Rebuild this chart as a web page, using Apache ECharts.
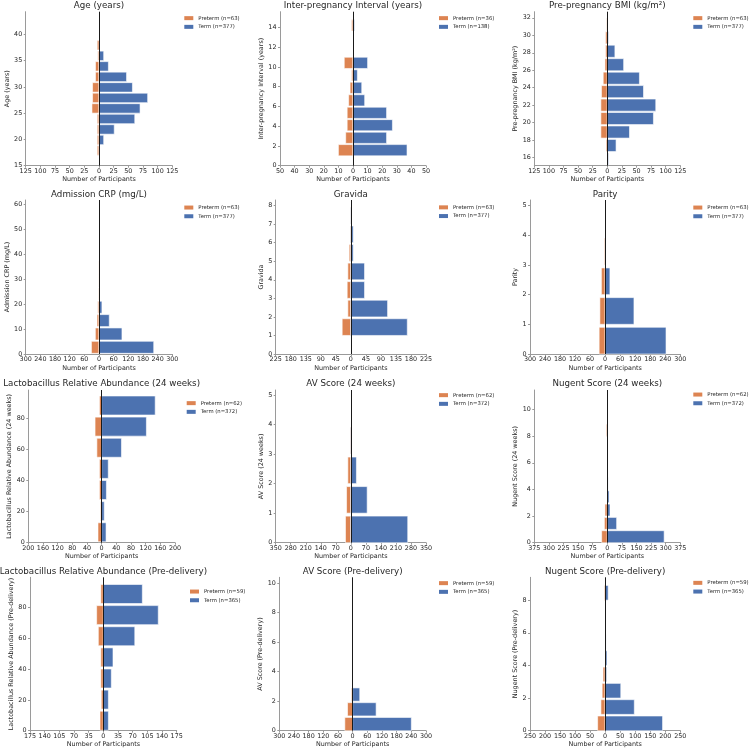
<!DOCTYPE html>
<html>
<head>
<meta charset="utf-8">
<script src="https://cdn.jsdelivr.net/npm/echarts@6/dist/echarts.min.js"></script>
<style>
  html, body { margin: 0; padding: 0; background: #fff; }
  #chart { width: 752px; height: 751px; }
</style>
</head>
<body>
<div id="chart"></div>
<script>
const FONT = 'DejaVu Sans'
const ORANGE = '#DD8452'
const BLUE = '#4C72B0'

// bin lower edges and counts per panel (preterm drawn to the left)
const ageBins = [17, 19, 21, 23, 25, 27, 29, 31, 33, 35, 37]
const agePreterm = [3, 3, 3, 3, 12, 11, 11, 6, 6, 2, 3]
const ageTerm = [1, 8, 26, 61, 70, 83, 57, 47, 16, 8, 0]

const ipiBins = [1.00, 2.26, 3.53, 4.79, 6.05, 7.32, 8.58, 9.85, 11.11, 12.37, 13.64]
const ipiPreterm = [10, 5, 4, 4, 3, 2, 1, 6, 0, 0, 1]
const ipiTerm = [37, 23, 27, 23, 8, 6, 3, 10, 0, 0, 1]

const bmiBins = [15.16, 16.70, 18.24, 19.78, 21.32, 22.86, 24.40, 25.94, 27.48, 29.02, 30.56]
const bmiPreterm = [0, 2, 11, 11, 11, 10, 7, 4, 3, 3, 1]
const bmiTerm = [2, 15, 38, 79, 83, 62, 55, 28, 13, 2, 0]

const crpBins = [0.27, 5.62, 10.97, 16.32, 21.67, 27.02, 32.37, 37.72, 43.07, 48.42, 53.77]
const crpPreterm = [31, 15, 8, 5, 2, 1, 1, 0, 0, 0, 0]
const crpTerm = [224, 94, 42, 12, 3, 1, 1, 0, 0, 0, 0]

const gravidaBins = [1, 2, 3, 4, 5, 6, 7]
const gravidaPreterm = [26, 9, 11, 9, 5, 2, 1]
const gravidaTerm = [169, 110, 41, 41, 7, 7, 2]

const parityBins = [0, 1, 2, 3]
const parityPreterm = [24, 21, 15, 3]
const parityTerm = [243, 115, 19, 0]

const lacto24Bins = [0.6, 14.2, 27.8, 41.4, 55.0, 68.6, 82.2]
const lacto24Preterm = [10, 3, 6, 6, 13, 18, 6]
const lacto24Term = [12, 7, 13, 18, 54, 122, 146]

const av24Bins = [0, 1, 2, 3]
const av24Preterm = [25, 20, 14, 3]
const av24Term = [265, 76, 26, 5]

const nugent24Bins = [0, 1, 2, 3, 4, 5, 6, 7, 8, 9]
const nugent24Preterm = [29, 15, 12, 1, 0, 0, 0, 0, 5, 0]
const nugent24Term = [292, 48, 14, 9, 4, 1, 2, 1, 1, 0]

const lactoPreBins = [0.3, 14.0, 27.7, 41.4, 55.1, 68.8, 82.5]
const lactoPrePreterm = [8, 5, 6, 6, 12, 16, 6]
const lactoPreTerm = [12, 12, 19, 23, 75, 131, 93]

const avPreBins = [0, 1, 2, 3, 4, 5, 6, 7, 8, 9]
const avPrePreterm = [32, 21, 5, 0, 1, 0, 0, 0, 0, 0]
const avPreTerm = [240, 96, 29, 0, 0, 0, 0, 0, 0, 0]

const nugentPreBins = [0, 1, 2, 3, 4, 5, 6, 7, 8]
const nugentPrePreterm = [25, 14, 10, 7, 0, 0, 0, 0, 3]
const nugentPreTerm = [191, 97, 52, 5, 6, 3, 0, 1, 10]

const panels = [
  { title: 'Age (years)', yName: 'Age (years)', bins: ageBins, bw: 2, pre: agePreterm, term: ageTerm, nPre: 63, nTerm: 377, yTicks: [15, 20, 25, 30, 35, 40], xTicks: [125, 25] },
  { title: 'Inter-pregnancy Interval (years)', yName: 'Inter-pregnancy Interval (years)', bins: ipiBins, bw: 1.2636, pre: ipiPreterm, term: ipiTerm, nPre: 36, nTerm: 138, yTicks: [0, 2, 4, 6, 8, 10, 12, 14], xTicks: [50, 10] },
  { title: 'Pre-pregnancy BMI (kg/m²)', yName: 'Pre-pregnancy BMI (kg/m²)', bins: bmiBins, bw: 1.54, pre: bmiPreterm, term: bmiTerm, nPre: 63, nTerm: 377, yTicks: [16, 18, 20, 22, 24, 26, 28, 30, 32], xTicks: [125, 25] },
  { title: 'Admission CRP (mg/L)', yName: 'Admission CRP (mg/L)', bins: crpBins, bw: 5.35, pre: crpPreterm, term: crpTerm, nPre: 63, nTerm: 377, yTicks: [0, 10, 20, 30, 40, 50, 60], xTicks: [300, 60] },
  { title: 'Gravida', yName: 'Gravida', bins: gravidaBins, bw: 1, pre: gravidaPreterm, term: gravidaTerm, nPre: 63, nTerm: 377, yTicks: [0, 1, 2, 3, 4, 5, 6, 7, 8], xTicks: [225, 45] },
  { title: 'Parity', yName: 'Parity', bins: parityBins, bw: 1, pre: parityPreterm, term: parityTerm, nPre: 63, nTerm: 377, yTicks: [0, 1, 2, 3, 4, 5], xTicks: [300, 60] },
  { title: 'Lactobacillus Relative Abundance (24 weeks)', yName: 'Lactobacillus Relative Abundance (24 weeks)', bins: lacto24Bins, bw: 13.6, pre: lacto24Preterm, term: lacto24Term, nPre: 62, nTerm: 372, yTicks: [0, 20, 40, 60, 80], xTicks: [200, 40] },
  { title: 'AV Score (24 weeks)', yName: 'AV Score (24 weeks)', bins: av24Bins, bw: 1, pre: av24Preterm, term: av24Term, nPre: 62, nTerm: 372, yTicks: [0, 1, 2, 3, 4, 5], xTicks: [350, 70] },
  { title: 'Nugent Score (24 weeks)', yName: 'Nugent Score (24 weeks)', bins: nugent24Bins, bw: 1, pre: nugent24Preterm, term: nugent24Term, nPre: 62, nTerm: 372, yTicks: [0, 2, 4, 6, 8, 10], xTicks: [375, 75] },
  { title: 'Lactobacillus Relative Abundance (Pre-delivery)', yName: 'Lactobacillus Relative Abundance (Pre-delivery)', bins: lactoPreBins, bw: 13.7, pre: lactoPrePreterm, term: lactoPreTerm, nPre: 59, nTerm: 365, yTicks: [0, 20, 40, 60, 80], xTicks: [175, 35] },
  { title: 'AV Score (Pre-delivery)', yName: 'AV Score (Pre-delivery)', bins: avPreBins, bw: 1, pre: avPrePreterm, term: avPreTerm, nPre: 59, nTerm: 365, yTicks: [0, 2, 4, 6, 8, 10], xTicks: [300, 60] },
  { title: 'Nugent Score (Pre-delivery)', yName: 'Nugent Score (Pre-delivery)', bins: nugentPreBins, bw: 1, pre: nugentPrePreterm, term: nugentPreTerm, nPre: 59, nTerm: 365, yTicks: [0, 2, 4, 6, 8], xTicks: [250, 50] }
]

// pixel layout: plot box, y range, title row, y-name gap, legend spot
const layout = [
  { l: 25.7, r: 172.3, t: 11.7, b: 165.7, yMin: 15, yMax: 44.3, titleY: 6, nameGap: 12.1, legX: 184.3, legY: 18.3 },
  { l: 280, r: 426, t: 11.7, b: 165.7, yMin: 0, yMax: 15.6, titleY: 6, nameGap: 12.4, legX: 439, legY: 18.3 },
  { l: 534.3, r: 680.3, t: 11.7, b: 165.7, yMin: 15.08, yMax: 32.7, titleY: 6, nameGap: 11.4, legX: 693.3, legY: 18.3 },
  { l: 25.7, r: 172.3, t: 200, b: 354, yMin: 0, yMax: 61.7, titleY: 194.3, nameGap: 12.1, legX: 184.3, legY: 207.7 },
  { l: 275.7, r: 426, t: 200, b: 354, yMin: 0, yMax: 8.3, titleY: 194.3, nameGap: 8.1, legX: 439, legY: 207.5 },
  { l: 530, r: 680.3, t: 200, b: 354, yMin: 0, yMax: 5.19, titleY: 194.3, nameGap: 7.4, legX: 693.3, legY: 207.7 },
  { l: 28.3, r: 175, t: 390, b: 542.7, yMin: 0, yMax: 98.3, titleY: 383.3, nameGap: 12, legX: 186.7, legY: 403.3 },
  { l: 275.7, r: 426, t: 390, b: 542.7, yMin: 0, yMax: 5.17, titleY: 383.3, nameGap: 8.1, legX: 439, legY: 395.3 },
  { l: 534.3, r: 680.3, t: 390, b: 542.7, yMin: 0, yMax: 11.47, titleY: 383.3, nameGap: 11.7, legX: 693.3, legY: 394.7 },
  { l: 30, r: 176.7, t: 577.3, b: 730.7, yMin: 0, yMax: 99.5, titleY: 572, nameGap: 11.4, legX: 190, legY: 591.7 },
  { l: 279.3, r: 426, t: 577.3, b: 730.7, yMin: 0, yMax: 10.4, titleY: 572, nameGap: 11.7, legX: 439, legY: 583.3 },
  { l: 530, r: 680.3, t: 577.3, b: 730.7, yMin: 0, yMax: 9.4, titleY: 572, nameGap: 7.4, legX: 693.3, legY: 583 }
]

const textColor = '#262626'
const spineColor = '#9a9a9a'
const tickFont = 6.4

// one horizontal rect per histogram bin, placed through the axes
const renderBin = (params, api) => {
  const n = api.value(2)
  if (!n) return null
  const a = api.coord([0, api.value(0)])
  const b = api.coord([n, api.value(1)])
  return {
    type: 'rect',
    shape: {
      x: Math.min(a[0], b[0]),
      y: Math.min(a[1], b[1]),
      width: Math.abs(b[0] - a[0]),
      height: Math.abs(b[1] - a[1])
    },
    style: { fill: api.visual('color'), stroke: '#fff', lineWidth: 0.6 }
  }
}

const chart = echarts.init(document.getElementById('chart'))

const option = {
  animation: false,
  backgroundColor: '#fff',
  textStyle: { fontFamily: FONT },
  title: [],
  legend: [],
  grid: [],
  xAxis: [],
  yAxis: [],
  series: []
}

panels.forEach((p, i) => {
  const L = layout[i]
  const preName = 'Preterm (n=' + p.nPre + ')'
  const termName = 'Term (n=' + p.nTerm + ')'

  option.grid.push({
    left: L.l, top: L.t, width: L.r - L.l, height: L.b - L.t,
    outerBoundsMode: 'none'
  })

  option.title.push({
    text: p.title,
    left: (L.l + L.r) / 2,
    top: L.titleY,
    textAlign: 'center',
    textVerticalAlign: 'middle',
    padding: 0,
    textStyle: { fontFamily: FONT, fontSize: 8.7, fontWeight: 'normal', color: textColor }
  })

  option.legend.push({
    data: [preName, termName],
    orient: 'vertical',
    left: L.legX,
    top: L.legY - 2.65,
    padding: 0,
    icon: 'rect',
    itemWidth: 9,
    itemHeight: 4,
    itemGap: 3.7,
    selectedMode: false,
    textStyle: { fontFamily: FONT, fontSize: 5.3, color: textColor }
  })

  option.xAxis.push({
    gridIndex: i,
    type: 'value',
    min: -p.xTicks[0],
    max: p.xTicks[0],
    interval: p.xTicks[1],
    axisLine: { show: true, onZero: false, lineStyle: { color: spineColor, width: 1 } },
    axisTick: { show: true, length: 2, lineStyle: { color: spineColor } },
    axisLabel: { fontFamily: FONT, fontSize: tickFont, color: textColor, margin: 2.5, formatter: v => String(Math.abs(v)) },
    splitLine: { show: false },
    name: 'Number of Participants',
    nameLocation: 'middle',
    nameGap: 11,
    nameTextStyle: { fontFamily: FONT, fontSize: tickFont, color: textColor }
  })

  option.yAxis.push({
    gridIndex: i,
    type: 'value',
    min: L.yMin,
    max: L.yMax,
    axisLine: { show: true, onZero: false, lineStyle: { color: spineColor, width: 1 } },
    axisTick: { show: true, length: 2, customValues: p.yTicks, lineStyle: { color: spineColor } },
    axisLabel: { fontFamily: FONT, fontSize: tickFont, color: textColor, margin: 3.5, customValues: p.yTicks },
    splitLine: { show: false },
    name: p.yName,
    nameLocation: 'middle',
    nameGap: L.nameGap,
    nameTextStyle: { fontFamily: FONT, fontSize: tickFont, color: textColor }
  })

  option.series.push({
    name: preName,
    type: 'custom',
    xAxisIndex: i,
    yAxisIndex: i,
    itemStyle: { color: ORANGE },
    renderItem: renderBin,
    encode: { x: 2, y: [0, 1] },
    silent: true,
    data: p.bins.map((lo, k) => [lo, lo + p.bw * 0.9, -p.pre[k]])
  })

  option.series.push({
    name: termName,
    type: 'custom',
    xAxisIndex: i,
    yAxisIndex: i,
    itemStyle: { color: BLUE },
    renderItem: renderBin,
    encode: { x: 2, y: [0, 1] },
    silent: true,
    data: p.bins.map((lo, k) => [lo, lo + p.bw * 0.9, p.term[k]]),
    markLine: {
      silent: true,
      symbol: 'none',
      label: { show: false },
      lineStyle: { color: '#1a1a1a', width: 1, type: 'solid' },
      data: [{ xAxis: 0 }]
    }
  })
})

chart.setOption(option)
</script>
</body>
</html>
